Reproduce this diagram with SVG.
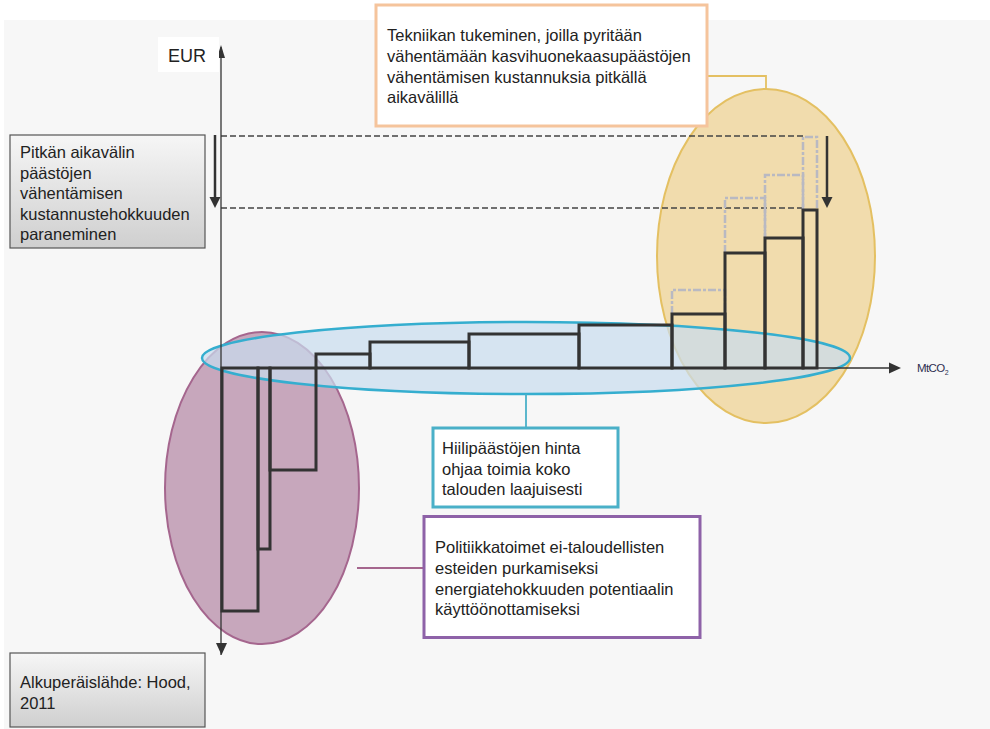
<svg xmlns="http://www.w3.org/2000/svg" width="990" height="729" viewBox="0 0 990 729">
<defs>
<linearGradient id="gbox" x1="0" y1="0" x2="0" y2="1">
<stop offset="0" stop-color="#f6f6f6"/>
<stop offset="1" stop-color="#cfcfcf"/>
</linearGradient>
</defs>
<style>
text{font-family:"Liberation Sans",Arial,sans-serif;font-size:16.5px;fill:#222}
.bar{fill:none;stroke:#333;stroke-width:3}
.ghost{fill:none;stroke:#b9b9c2;stroke-width:2.5;stroke-dasharray:8 2 3 2}
.dash{fill:none;stroke:#444;stroke-width:1.5;stroke-dasharray:6 3}
.axis{fill:none;stroke:#333;stroke-width:1.3}
.arr{fill:none;stroke:#333;stroke-width:2.5}
</style>
<rect x="4" y="20" width="986" height="709" fill="#f7f7f7"/>

<g id="ellipses">
<ellipse id="purple-ellipse" cx="262" cy="488" rx="97" ry="156" fill="#c4a2b8" fill-opacity="0.95" stroke="#a5668e" stroke-width="2"/>
<ellipse id="yellow-ellipse" cx="766" cy="256" rx="109" ry="167" fill="#f0d9a6" fill-opacity="0.92" stroke="#e4c062" stroke-width="2"/>
<ellipse id="blue-ellipse" cx="526" cy="358" rx="324" ry="36" fill="#c9dcee" fill-opacity="0.72" stroke="#35aecf" stroke-width="2.5"/>
</g>

<g id="connectors">
<path d="M708,76 H766 V89" fill="none" stroke="#e4c062" stroke-width="1.8"/>
<path d="M526,394 V427" fill="none" stroke="#4ab0c8" stroke-width="1.8"/>
<path d="M357,568 H423" fill="none" stroke="#a5668e" stroke-width="1.8"/>
<path class="dash" d="M221,136 H804"/>
<path class="dash" d="M221,208 H804"/>
<path class="arr" d="M215,135 V199"/>
<path d="M209.5,197 L220.5,197 L215,208 Z" fill="#333"/>
<path class="arr" d="M827,136 V199"/>
<path d="M821.5,197 L832.5,197 L827,208 Z" fill="#333"/>
</g>

<g id="ghost-steps">
<path class="ghost" d="M672,314 V290 H725 V314"/>
<path class="ghost" d="M725,253 V198 H765 V238"/>
<path class="ghost" d="M765,238 V175 H803 V210"/>
<path class="ghost" d="M803,210 V137 H817 V210"/>
</g>

<g id="bars">
<rect class="bar" x="222" y="368" width="36" height="243"/>
<rect class="bar" x="258" y="368" width="12" height="181"/>
<rect class="bar" x="270" y="368" width="46" height="102"/>
<rect class="bar" x="316" y="354" width="54" height="14"/>
<rect class="bar" x="370" y="342" width="99" height="26"/>
<rect class="bar" x="469" y="334" width="110" height="34"/>
<rect class="bar" x="579" y="325" width="93" height="43"/>
<rect class="bar" x="672" y="314" width="53" height="54"/>
<rect class="bar" x="725" y="253" width="40" height="115"/>
<rect class="bar" x="765" y="238" width="38" height="130"/>
<rect class="bar" x="803" y="210" width="14" height="158"/>
</g>

<g id="axes">
<path class="axis" d="M221,655 V47"/>
<path d="M217,58 L221,45 L225,58 Z" fill="#333"/>
<path d="M216,643 L227,643 L221.5,655 Z" fill="#333"/>
<path class="axis" d="M221,368 H890"/>
<path d="M889,362.5 L901,368 L889,373.5 Z" fill="#333"/>
<text x="917" y="372" style="font-size:11.5px;fill:#2e2e50;letter-spacing:-0.6px">MtCO<tspan dy="3" style="font-size:7px">2</tspan></text>
</g>

<g id="eur-label">
<rect x="158" y="37" width="61" height="35" fill="#ffffff"/>
<text x="168" y="62" style="font-size:18px">EUR</text>
</g>

<g id="box-long-term">
<rect x="10" y="135" width="195" height="113" fill="url(#gbox)" stroke="#555" stroke-width="1.2"/>
<text x="20" y="158">Pitkän aikavälin</text>
<text x="20" y="178.5">päästöjen</text>
<text x="20" y="199">vähentämisen</text>
<text x="20" y="219.5">kustannustehokkuuden</text>
<text x="20" y="240">paraneminen</text>
</g>

<g id="box-tech">
<rect x="376" y="5" width="331" height="121" fill="#ffffff" stroke="#f5c49c" stroke-width="3"/>
<text x="387" y="41">Tekniikan tukeminen, joilla pyritään</text>
<text x="387" y="62">vähentämään kasvihuonekaasupäästöjen</text>
<text x="387" y="83">vähentämisen kustannuksia pitkällä</text>
<text x="387" y="103">aikavälillä</text>
</g>

<g id="box-carbon">
<rect x="433" y="428" width="185" height="79" fill="#ffffff" stroke="#4ab0c8" stroke-width="3"/>
<text x="442" y="454">Hiilipäästöjen hinta</text>
<text x="442" y="475">ohjaa toimia koko</text>
<text x="442" y="495">talouden laajuisesti</text>
</g>

<g id="box-policy">
<rect x="424" y="516.5" width="276" height="121" fill="#ffffff" stroke="#8e62a8" stroke-width="3"/>
<text x="435" y="553">Politiikkatoimet ei-taloudellisten</text>
<text x="435" y="573.5">esteiden purkamiseksi</text>
<text x="435" y="594.5">energiatehokkuuden potentiaalin</text>
<text x="435" y="615">käyttöönottamiseksi</text>
</g>

<g id="box-source">
<rect x="10" y="653" width="195" height="74" fill="url(#gbox)" stroke="#555" stroke-width="1.2"/>
<text x="20" y="688">Alkuperäislähde: Hood,</text>
<text x="20" y="708.5">2011</text>
</g>
</svg>
